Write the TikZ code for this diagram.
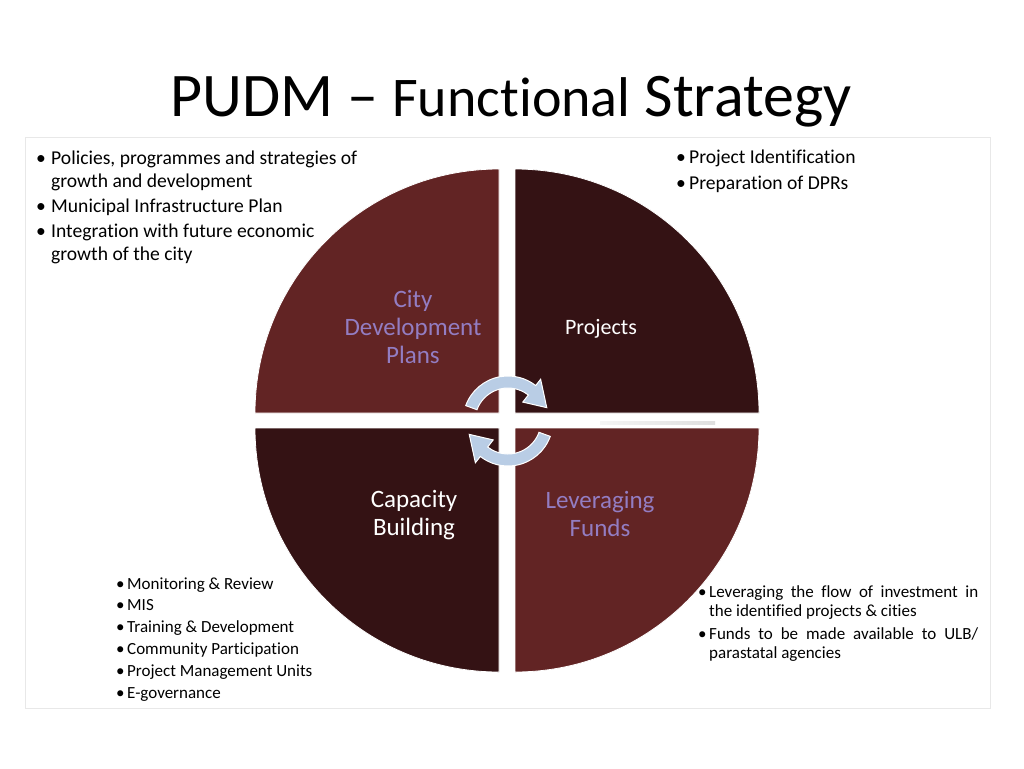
\documentclass[tikz,border=0pt]{standalone}
\usepackage{fontspec}
\setmainfont{Carlito}[RawFeature={-liga;-clig;-calt;-dlig}]
\usetikzlibrary{calc}
\newcommand{\TIbrk}{t\kern0pt i}
\definecolor{maroonq}{RGB}{98,36,36}
\definecolor{darkq}{RGB}{52,18,20}
\definecolor{lav}{RGB}{147,125,194}
\definecolor{arrowblue}{RGB}{185,205,229}
\definecolor{framegray}{RGB}{232,232,232}
\begin{document}
\begin{tikzpicture}[x=1pt,y=-1pt,
  quad/.style={draw=white,line width=0.8pt},
  cyc/.style={fill=arrowblue,draw=white,line width=1pt},
  lbl/.style={align=center,inner sep=0pt},
  txt/.style={anchor=north west,inner sep=0pt}]
\useasboundingbox (0,0) rectangle (1024,768);
\fill[white] (0,0) rectangle (1024,768);
% frame
\draw[framegray,line width=0.8pt] (25,137) rectangle (990,708);
% title
\node[anchor=base,inner sep=0pt] (title) at (511,116)
  {\fontsize{62}{70}\selectfont PUDM – {\fontsize{56}{66}\selectfont Func\TIbrk onal} Strategy};
% quadrants
\fill[maroonq,quad] (499,413) -- ++(180:244pt) arc[start angle=180,end angle=90,radius=244pt] -- cycle;
\fill[darkq,quad] (515,413) -- ++(90:244pt) arc[start angle=90,end angle=0,radius=244pt] -- cycle;
\fill[maroonq,quad] (515,428) -- ++(0:244pt) arc[start angle=0,end angle=-90,radius=244pt] -- cycle;
\fill[darkq,quad] (499,428) -- ++(-90:244pt) arc[start angle=-90,end angle=-180,radius=244pt] -- cycle;
% faint mark
\shade[left color=gray!8,right color=gray!25] (600,421.5) rectangle (715,424.5);
% cycle arrows
\coordinate (C) at (508,421);
\filldraw[cyc] ($(C)+(160:45pt)$) arc[start angle=160,end angle=52,radius=45pt]
  -- ($(C)+(52:53pt)$) -- ($(C)+(19:41pt)$) -- ($(C)+(52:24pt)$) -- ($(C)+(52:33pt)$)
  arc[start angle=52,end angle=160,radius=33pt] -- cycle;
\filldraw[cyc] ($(C)+(-20:45pt)$) arc[start angle=-20,end angle=-128,radius=45pt]
  -- ($(C)+(-128:53pt)$) -- ($(C)+(-161:41pt)$) -- ($(C)+(-128:24pt)$) -- ($(C)+(-128:33pt)$)
  arc[start angle=-128,end angle=-20,radius=33pt] -- cycle;
% quadrant labels
\node[lbl,text=lav,font=\fontsize{25}{28}\selectfont] (cdp) at (413,327) {City\\Development\\Plans};
\node[lbl,text=white,font=\fontsize{22}{26}\selectfont] (proj) at (601,329) {Projects};
\node[lbl,text=white,font=\fontsize{25}{28}\selectfont] (cap) at (414,515) {Capacity\\Building};
\node[lbl,text=lav,font=\fontsize{25}{28}\selectfont] (lev) at (600,514) {Leveraging\\Funds};
% text blocks
\node[txt] (tltext) at (36,148) {\fontsize{19.6}{23.3}\selectfont
\begin{tabular}{@{}l@{}l@{}}
\makebox[15pt][l]{•}& Policies, programmes and strategies of\\
& growth and development\\[1.5pt]
\makebox[15pt][l]{•}& Municipal Infrastructure Plan\\[1.5pt]
\makebox[15pt][l]{•}& Integra\TIbrk on with future economic\\
& growth of the city
\end{tabular}};
\node[txt] (trtext) at (676,144.8) {\fontsize{19.6}{26}\selectfont
\begin{tabular}{@{}l@{}l@{}}
\makebox[13pt][l]{•}& Project Identifica\TIbrk on\\
\makebox[13pt][l]{•}& Prepara\TIbrk on of DPRs
\end{tabular}};
\node[txt] (bltext) at (116,573.7) {\fontsize{17}{21.8}\selectfont
\begin{tabular}{@{}l@{}l@{}}
\makebox[11pt][l]{•}& Monitoring \& Review\\
\makebox[11pt][l]{•}& MIS\\
\makebox[11pt][l]{•}& Training \& Development\\
\makebox[11pt][l]{•}& Community Par\TIbrk cipa\TIbrk on\\
\makebox[11pt][l]{•}& Project Management Units\\
\makebox[11pt][l]{•}& E-governance
\end{tabular}};
\node[txt] (brtext) at (698,583.7) {\fontsize{17}{19}\selectfont
\begin{tabular}{@{}l@{}l@{}}
\makebox[11pt][l]{•}& \makebox[269pt][s]{Leveraging the flow of investment in}\\
& the identified projects \& ci\TIbrk es\\[4pt]
\makebox[11pt][l]{•}& \makebox[269pt][s]{Funds to be made available to ULB/}\\
& parastatal agencies
\end{tabular}};
\end{tikzpicture}
\end{document}
